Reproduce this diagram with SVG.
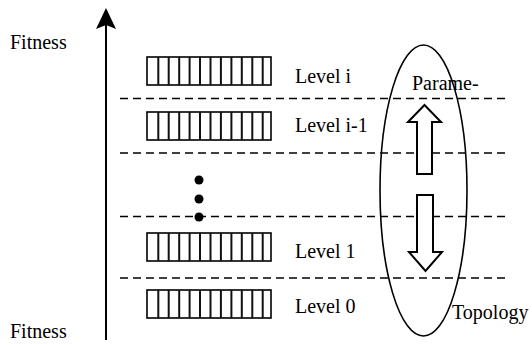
<svg xmlns="http://www.w3.org/2000/svg" width="532" height="345" viewBox="0 0 532 345">
<defs>
<style>
.dash{stroke:#000;stroke-width:1.6;stroke-dasharray:8 5;fill:none}
.box{fill:#fff;stroke:#000;stroke-width:1.6}
.bar{stroke:#111;stroke-width:2}
.barrow{fill:#fff;stroke:#000;stroke-width:2;stroke-linejoin:miter}
</style>
<g id="bars">
<rect class="box" x="147" y="0" width="124" height="28"/>
<path class="bar" d="M158.3,0V28M168.7,0V28M179.2,0V28M189.6,0V28M200,0V28M210.5,0V28M220.9,0V28M231.4,0V28M241.8,0V28M252.3,0V28M262.7,0V28"/>
</g>
</defs>
<rect width="532" height="345" fill="#fff"/>
<g id="grid">
<line class="dash" x1="120" y1="98.5" x2="508" y2="98.5"/>
<line class="dash" x1="120" y1="153" x2="508" y2="153"/>
<line class="dash" x1="120" y1="216.5" x2="508" y2="216.5"/>
<line class="dash" x1="120" y1="278" x2="508" y2="278"/>
</g>
<g font-family="Liberation Serif, DejaVu Serif, serif" font-size="20" fill="#000">
<g id="axis-labels">
<text x="10" y="49">Fitness</text>
<text x="10" y="338">Fitness</text>
</g>
<g id="level-i"><use href="#bars" y="57"/><text x="295" y="83">Level i</text></g>
<g id="level-i-1"><use href="#bars" y="112"/><text x="295" y="132">Level i-1</text></g>
<g id="ellipsis"><circle cx="199" cy="180" r="4.5"/><circle cx="199" cy="199" r="4.5"/><circle cx="199" cy="217" r="4.5"/></g>
<g id="level-1"><use href="#bars" y="233"/><text x="295" y="258">Level 1</text></g>
<g id="level-0"><use href="#bars" y="290"/><text x="295" y="313">Level 0</text></g>
<g id="spectrum">
<ellipse cx="423.5" cy="190.5" rx="43.5" ry="145.5" fill="none" stroke="#000" stroke-width="1.6"/>
<text x="412" y="90">Parame-</text>
<text x="452" y="319">Topology</text>
</g>
</g>
<g id="connectors">
<line x1="106" y1="340" x2="106" y2="20" stroke="#000" stroke-width="2"/>
<path d="M106,8L116,29L106,25L96,29Z" fill="#000"/>
<path class="barrow" d="M424.5,105L441,122H432V174H417V122H408Z"/>
<path class="barrow" d="M417,195H433V252H442L425.5,271L409,252H417Z"/>
</g>
</svg>
